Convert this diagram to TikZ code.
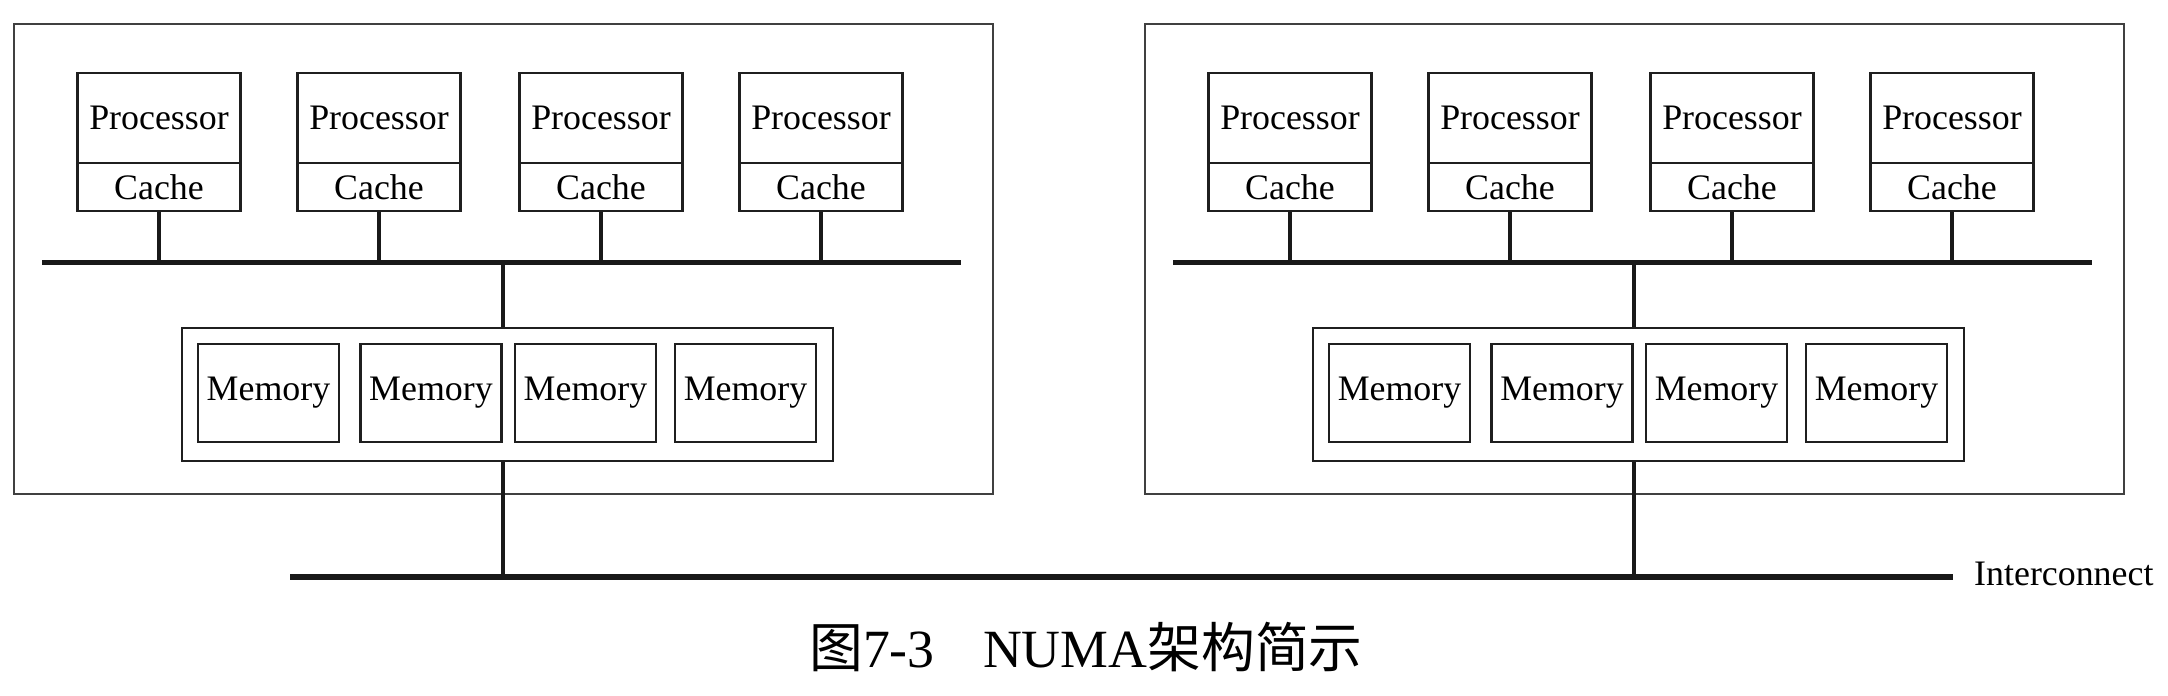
\documentclass[tikz,border=0pt]{standalone}
\usepackage{fontspec}
\setmainfont{Liberation Serif}
\newfontfamily\cjk{Noto Sans CJK SC}
\begin{document}
\begin{tikzpicture}[x=1bp,y=-1bp,
  ink/.style={draw=black!88},
  outerbox/.style={ink,line width=2.2bp,draw=black!75,minimum width=979bp,minimum height=470bp,inner sep=0},
  procbox/.style={ink,line width=2.6bp,minimum width=163bp,minimum height=90bp,inner sep=0,font=\fontsize{36}{40}\selectfont},
  cachebox/.style={ink,line width=2.6bp,minimum width=163bp,minimum height=48bp,inner sep=0,font=\fontsize{36}{40}\selectfont},
  memgroup/.style={ink,line width=2.6bp,minimum width=651bp,minimum height=133bp,inner sep=0},
  membox/.style={ink,line width=2.6bp,minimum width=141bp,minimum height=98bp,inner sep=0,font=\fontsize{36}{40}\selectfont},
  bus/.style={draw=black!90,line width=5bp},
  wire/.style={draw=black!90,line width=4bp},
  label/.style={inner sep=0,font=\fontsize{36}{40}\selectfont}]
\useasboundingbox[fill=white] (0,0) rectangle (2168,696);
% interconnect
\coordinate (icL) at (290,577);
\coordinate (icR) at (1953,577);
\draw[bus,line width=6bp] (icL) -- (icR);
\node[label,anchor=west] (iclabel) at (1974,574) {Interconnect};
\foreach \m/\dx in {L/0,R/1131}{
  \begin{scope}[shift={(\dx,0)}]
    \node[outerbox] (\m-box) at (503.5,259) {};
    \coordinate (\m-busL) at (42,262);
    \coordinate (\m-busR) at (961,262);
    \coordinate (\m-busM) at (503,262);
    \foreach \i/\x in {1/159,2/379,3/601,4/821}{
      \node[procbox] (\m-p\i) at (\x,118) {Processor};
      \node[cachebox] (\m-c\i) at (\x,187) {Cache};
      \draw[wire] (\m-c\i.south) -- (\m-c\i.south |- \m-busL);
    }
    \draw[bus] (\m-busL) -- (\m-busR);
    \node[memgroup] (\m-mg) at (507.5,394.5) {};
    \foreach \i/\x in {1/268.5,2/431,3/585.5,4/745.5}{
      \node[membox] (\m-m\i) at (\x,393) {Memory};
    }
    \draw[wire] (\m-busM) -- (\m-busM |- \m-mg.north);
    \draw[wire] (\m-busM |- \m-mg.south) -- (\m-busM |- icL);
  \end{scope}
}
\node[inner sep=0,font=\fontsize{54}{60}\selectfont] (caption) at (1086,647) {{\cjk 图}7-3\hspace{0.9em}NUMA{\cjk 架构简示}};
\end{tikzpicture}
\end{document}
